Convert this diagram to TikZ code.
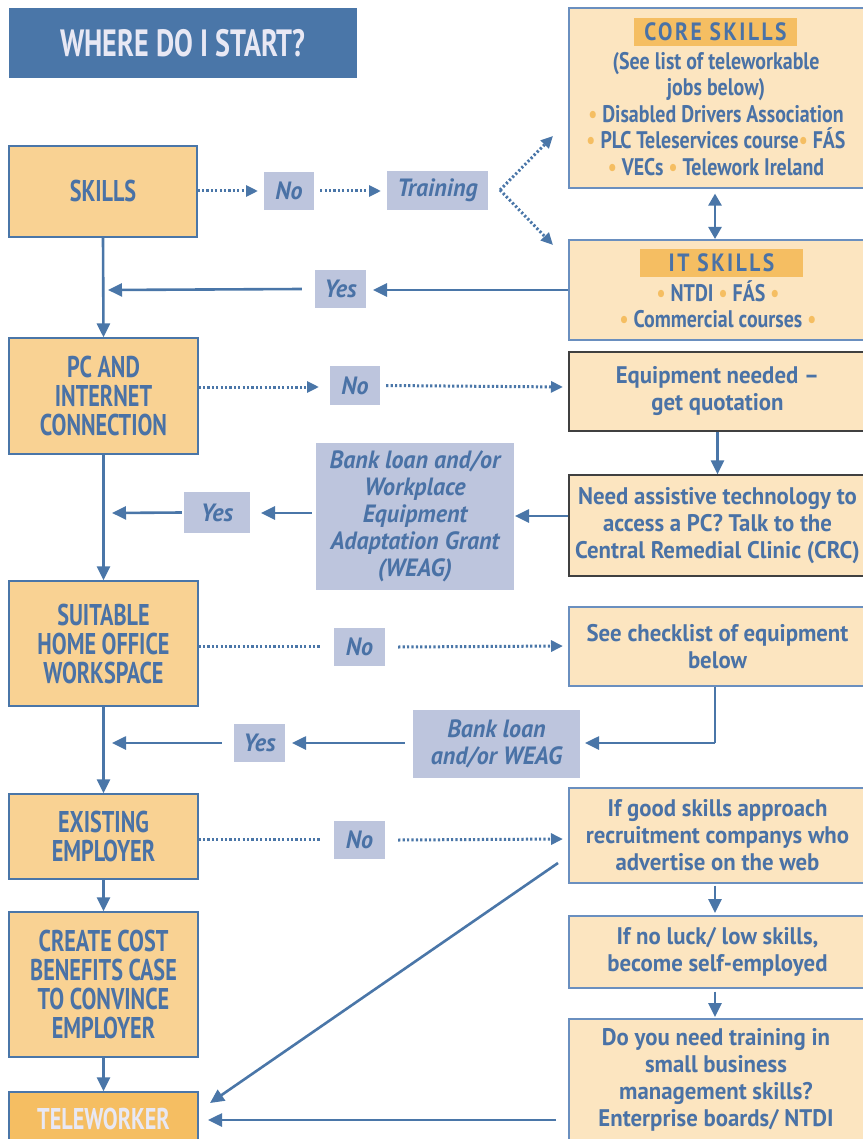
\documentclass[tikz,border=0pt]{standalone}
\usepackage{fontspec}
\setmainfont{PT Sans}[FakeStretch=0.74]
\newfontfamily\widefont{PT Sans}[FakeStretch=0.95]
\newfontfamily\corefont{PT Sans}[FakeStretch=0.83]
\newfontfamily\labfont{PT Sans}[FakeStretch=0.96]
\newfontfamily\spacedfont{PT Sans}[FakeStretch=0.86,LetterSpace=10]
\usetikzlibrary{arrows.meta}
\definecolor{fblue}{HTML}{4A76A8}
\definecolor{tblue}{HTML}{4A72A6}
\definecolor{mainor}{HTML}{F9D293}
\definecolor{lightor}{HTML}{FCE5C0}
\definecolor{lav}{HTML}{BDC5DD}
\definecolor{hil}{HTML}{F5BE62}
\definecolor{ttl}{HTML}{E8E8F4}
\definecolor{bordl}{HTML}{6A8FBF}
\newcommand{\bul}{\textcolor{hil}{•}}
\tikzset{
  x=1pt,y=-1pt,
  mainbox/.style={draw=fblue,line width=1.2pt,fill=mainor,inner sep=0pt,align=center,
     text=tblue,font=\fontsize{30}{29}\selectfont\bfseries},
  rbox/.style={draw=bordl,line width=1.2pt,fill=lightor,inner sep=0pt,align=center,
     text=tblue,font=\fontsize{24}{27}\widefont\bfseries},
  dbox/.style={rbox,draw=black!75},
  lbox/.style={fill=lav,inner sep=0pt,align=center,text=tblue,
     font=\fontsize{25}{27}\labfont\bfseries\itshape},
  hbox/.style={fill=hil,inner sep=0pt,text=tblue,font=\fontsize{25}{27}\spacedfont\bfseries},
  txt/.style={inner sep=0pt,align=center,text=tblue,font=\fontsize{24}{26.5}\corefont\bfseries},
  arr/.style={fblue,line width=2.6pt,-{Triangle[length=14pt,width=13pt]}},
  sline/.style={fblue,line width=2.6pt},
  darr/.style={fblue,line width=3pt,dash pattern=on 2.2pt off 2.2pt,-{Triangle[length=12pt,width=11pt]}},
  dline/.style={fblue,line width=3pt,dash pattern=on 2.2pt off 2.2pt},
}
\newcommand{\bx}[6]{\node[#1,minimum width=#4-#3,minimum height=#6-#5] (#2) at ({(#3+#4)/2},{(#5+#6)/2})}
\begin{document}
\begin{tikzpicture}
\useasboundingbox (0,0) rectangle (862,1139);
% title
\bx{fill=fblue,inner sep=0pt,text=ttl,font=\fontsize{38}{40}\selectfont\bfseries}{title}{9}{357}{8}{78} {WHERE DO I START?};
% left column
\bx{mainbox}{skills}{9}{197}{146}{237} {SKILLS};
\bx{mainbox}{pc}{9}{198}{338}{454} {PC AND\\INTERNET\\CONNECTION};
\bx{mainbox}{suit}{9}{198}{581}{706} {SUITABLE\\HOME OFFICE\\WORKSPACE};
\bx{mainbox}{exist}{9}{198}{794}{879} {EXISTING\\EMPLOYER};
\bx{mainbox}{cost}{9}{198}{912}{1057} {CREATE COST\\BENEFITS CASE\\TO CONVINCE\\EMPLOYER};
\bx{mainbox,fill=hil,text=ttl}{tele}{9}{198}{1092}{1145} {TELEWORKER};
% right column
\bx{rbox}{core}{569}{866}{8}{188} {};
\bx{hbox}{coreh}{634}{797}{18}{46} {CORE SKILLS};
\node[txt] (coret) at (716,114) {(See list of teleworkable\\jobs below)\\\bul\ Disabled Drivers Association\\\bul\ PLC Teleservices course\bul\ FÁS\\\bul\ VECs \bul\ Telework Ireland};
\bx{rbox}{it}{569}{866}{240}{340} {};
\bx{hbox}{ith}{640}{803}{249}{277} {IT SKILLS};
\node[txt] (itt) at (718,304) {\bul\ NTDI \bul\ FÁS \bul\\\bul\ Commercial courses \bul};
\bx{dbox}{equip}{569}{866}{352}{431} {Equipment needed –\\get quotation};
\bx{dbox}{assist}{569}{866}{475}{576} {Need assistive technology to\\access a PC? Talk to the\\Central Remedial Clinic (CRC)};
\bx{rbox}{check}{569}{866}{607}{686} {See checklist of equipment\\below};
\bx{rbox}{good}{569}{866}{788}{883} {If good skills approach\\recruitment companys who\\advertise on the web};
\bx{rbox}{noluck}{569}{866}{916}{988} {If no luck/ low skills,\\become self-employed};
\bx{rbox}{train}{569}{866}{1019}{1150} {};
\node[rbox,draw=none,fill=none] (traint) at (716,1080) {Do you need training in\\small business\\management skills?\\Enterprise boards/ NTDI};
% labels
\bx{lbox}{no1}{264}{314}{172}{210} {No};
\bx{lbox}{training}{387}{488}{171}{210} {Training};
\bx{lbox}{yes1}{315}{366}{270}{308} {Yes};
\bx{lbox}{no2}{330}{380}{366}{405} {No};
\bx{lbox}{bank1}{316}{514}{443}{590} {Bank loan and/or\\Workplace\\Equipment\\Adaptation Grant\\(WEAG)};
\bx{lbox}{yes2}{184}{250}{492}{533} {Yes};
\bx{lbox}{no3}{334}{385}{628}{666} {No};
\bx{lbox}{bank2}{413}{580}{710}{778} {Bank loan\\and/or WEAG};
\bx{lbox}{yes3}{234}{285}{724}{762} {Yes};
\bx{lbox}{no4}{334}{385}{821}{859} {No};
% helper coordinates
\coordinate (trsplit) at (500,190);
\coordinate (c1) at (715,743);
% connectors
\draw[darr] (skills.east |- 0,191) -- (258,191);
\draw[darr] (no1.east |- 0,191) ++(6,0) -- (381,191);
\draw[darr] (trsplit) -- (553,136);
\draw[darr] (trsplit) -- (553,245);
\draw[fblue,line width=2.6pt,{Triangle[length=12pt,width=13pt]}-{Triangle[length=12pt,width=13pt]}] (core.south -| c1) ++(0,5) -- (715,239);
\draw[arr] (it.west |- 0,290) -- (373,290);
\draw[arr] (yes1.west) ++(-13,0) -- (108,290);
\draw[arr] (skills.south) -- (pc.north);
\draw[darr] (pc.east |- 0,387) -- (319,387);
\draw[darr] (no2.east) ++(6,0) -- (563,387);
\draw[arr] (equip.south) -- (assist.north);
\draw[arr] (assist.west |- 0,516) -- (515,516);
\draw[arr] (bank1.west |- 0,513) ++(-4,0) -- (261,513);
\draw[arr] (yes2.west) ++(-2,0) -- (112,513);
\draw[arr] (pc.south) -- (suit.north);
\draw[dline] (suit.east |- 0,646) -- (320,646);
\draw[darr] (no3.east) ++(13,0) -- (563,646);
\draw[sline] (check.south -| c1) -- (c1);
\draw[arr] (c1) -- (585,743);
\draw[arr] (bank2.west |- 0,743) ++(-8,0) -- (292,743);
\draw[arr] (yes3.west) ++(-12,0) -- (112,743);
\draw[arr] (suit.south) -- (exist.north);
\draw[dline] (exist.east |- 0,839) -- (320,839);
\draw[darr] (no4.east) ++(13,0) -- (563,839);
\draw[arr] (558,863) -- (210,1103);
\draw[arr] (good.south -| c1) ++(0,2) -- (715,913);
\draw[arr] (noluck.south -| c1) ++(0,3) -- (715,1017);
\draw[arr] (556,1120) -- (208,1120);
\draw[arr] (exist.south) -- (cost.north);
\draw[arr] (cost.south) -- (tele.north);
\end{tikzpicture}
\end{document}
